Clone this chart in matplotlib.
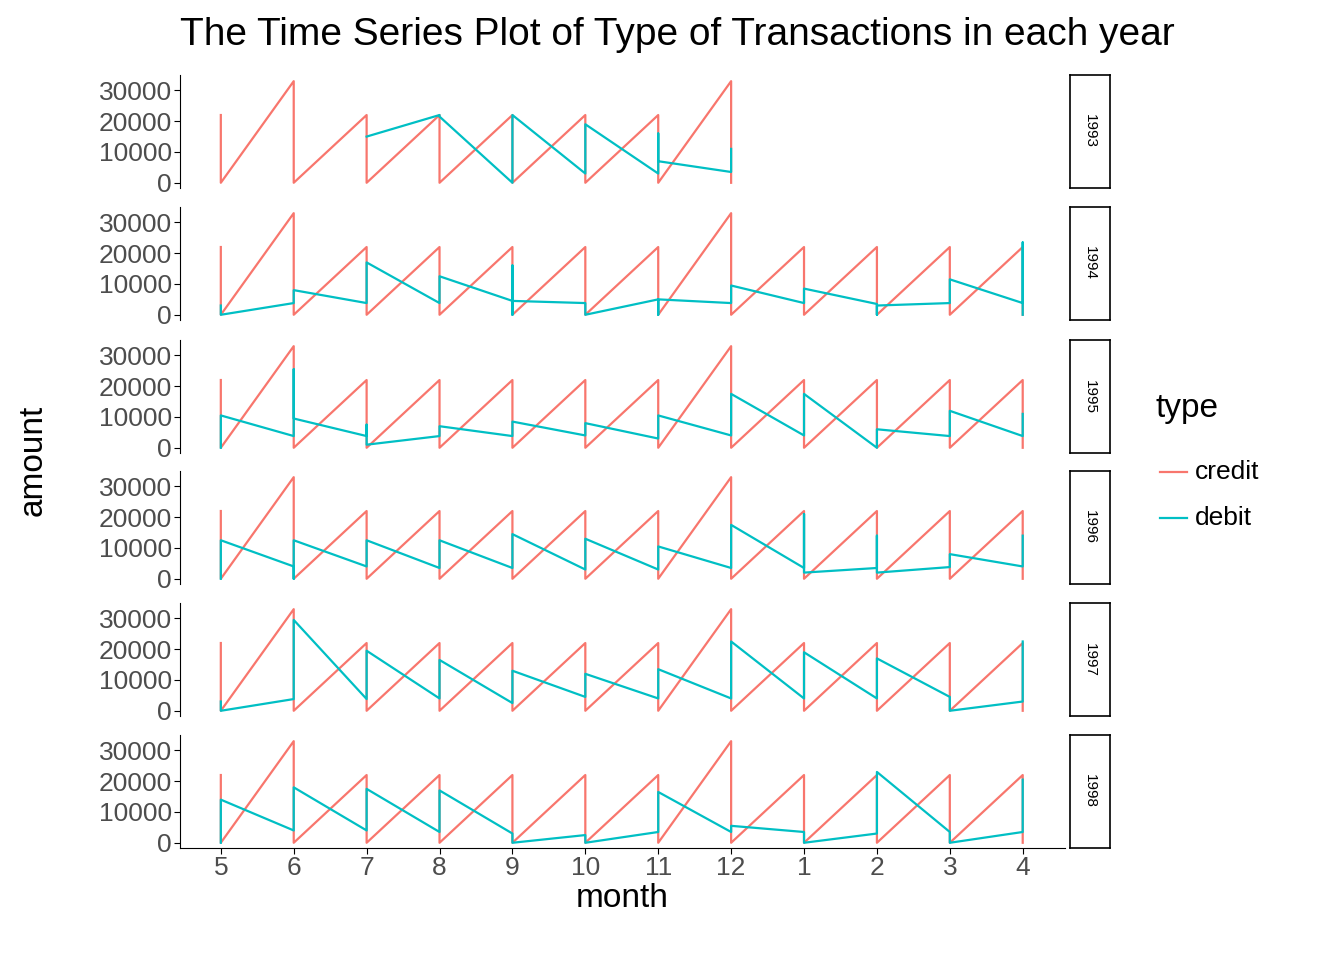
import matplotlib.pyplot as plt

plt.rcParams['font.family'] = ['Liberation Sans', 'DejaVu Sans']

years = [1993, 1994, 1995, 1996, 1997, 1998]
month_labels = ['5', '6', '7', '8', '9', '10', '11', '12', '1', '2', '3', '4']

# credit: values drawn at each month, in plotting order
credit_month = [[22000, 0], [33000, 0], [22000, 0], [22000, 0], [22000, 0], [22000, 0],
                [22000, 0], [33000, 0], [22000, 0], [22000, 0], [22000, 0], [22000, 0]]

# debit: per year, per month value sequences (None = no data)
debit = {
    1993: [None, None, [15000, 15000], [22000, 21500], [0, 22000], [3000, 19000],
           [3000, 16000, 7000], [3500, 11000], None, None, None, None],
    1994: [[3000, 0], [3800, 8000], [3800, 17000], [3800, 12500], [4500, 16000, 0, 4500],
           [3800, 0], [5000, 0, 5000], [3800, 9500], [3800, 8500], [3500, 0, 3000],
           [3800, 11500], [3800, 23500, 0]],
    1995: [[0, 10500], [3800, 25500, 9500], [3800, 7500, 1000], [3800, 7000], [3800, 8500],
           [4000, 8000], [3000, 10500], [4000, 17500], [4000, 17500], [0, 6000],
           [3800, 12000], [3800, 11000]],
    1996: [[0, 12500], [4000, 0, 12500], [4000, 12500], [3500, 12500], [3500, 14500],
           [3000, 13000], [3000, 10500], [3500, 17500], [3500, 21000, 2000],
           [3500, 14000, 2000], [3800, 8000], [4000, 14000]],
    1997: [[3000, 0], [3800, 29500], [3800, 19500], [4000, 16500], [2500, 13000],
           [4500, 12000], [4000, 13500], [4000, 22500], [4000, 19000], [4000, 17000],
           [4500, 0], [3000, 22500]],
    1998: [[0, 14000], [4000, 18000], [4000, 17500], [3500, 17000], [3000, 0], [2500, 0],
           [3500, 16500], [3500, 5500], [3500, 0], [3000, 23000], [3500, 0], [3500, 20500]],
}

red = '#F8766D'
teal = '#00BFC4'
W, H = 1344, 960
fig = plt.figure(figsize=(W / 100, H / 100), dpi=100)

tops = [75, 207, 340, 471, 603, 735]
ph = 113
left, right = 180, 1065


def flatten(seqs):
    xs, ys = [], []
    for i, s in enumerate(seqs):
        if s is None:
            continue
        for v in s:
            xs.append(i + 1)
            ys.append(v)
    return xs, ys


for k, yr in enumerate(years):
    t = tops[k]
    ax = fig.add_axes([left / W, 1 - (t + ph) / H, (right - left) / W, ph / H])
    cm = credit_month[:8] if yr == 1993 else credit_month
    cx, cy = flatten(cm)
    ax.plot(cx, cy, color=red, lw=1.6)
    dx, dy = flatten(debit[yr])
    ax.plot(dx, dy, color=teal, lw=1.6)
    ax.set_xlim(0.44, 12.58)
    ax.set_ylim(-1700, 35000)
    ax.set_yticks([0, 10000, 20000, 30000])
    ax.tick_params(axis='y', labelsize=19, colors='black', labelcolor='#4d4d4d', length=4, pad=2)
    for s in ['top', 'right']:
        ax.spines[s].set_visible(False)
    if k < 5:
        ax.spines['bottom'].set_visible(False)
        ax.set_xticks([])
    else:
        ax.set_xticks(range(1, 13))
        ax.set_xticklabels(month_labels)
        ax.tick_params(axis='x', labelsize=19, labelcolor='#4d4d4d', length=4, pad=2)
        ax.set_xlabel('month', fontsize=24, labelpad=2)
    # strip
    sx = fig.add_axes([1070 / W, 1 - (t + ph) / H, 40 / W, ph / H])
    sx.set_xticks([])
    sx.set_yticks([])
    for s in sx.spines.values():
        s.set_linewidth(1.2)
    sx.text(0.5, 0.5, str(yr), rotation=-90, ha='center', va='center', fontsize=11,
            transform=sx.transAxes)

fig.text(33 / W, 1 - 460 / H, 'amount', rotation=90, ha='center', va='center', fontsize=24)
fig.text(180 / W, 1 - 35 / H, 'The Time Series Plot of Type of Transactions in each year',
         ha='left', va='center', fontsize=28)

fig.text(1155 / W, 1 - 408 / H, 'type', fontsize=24, va='center')
for i, (lab, c) in enumerate([('credit', red), ('debit', teal)]):
    y = 1 - (472 + 46 * i) / H
    fig.add_artist(plt.Line2D([1160 / W, 1187 / W], [y, y], color=c, lw=1.6))
    fig.text(1195 / W, y, lab, fontsize=19, va='center')

fig.savefig('out.png', dpi=100)
